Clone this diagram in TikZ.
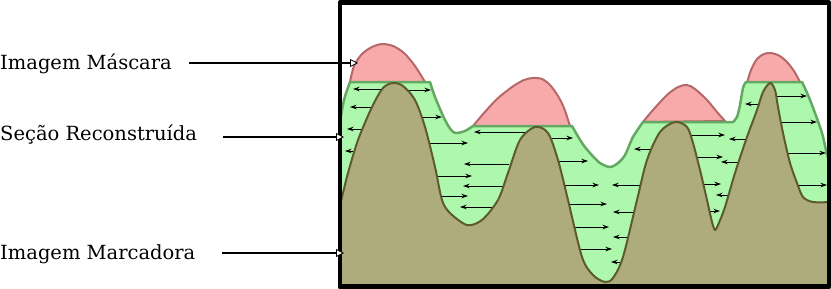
\documentclass[tikz,border=0pt]{standalone}
\usepackage{fontspec}
\setmainfont{DejaVu Serif}
\usetikzlibrary{arrows.meta}

\definecolor{maskpink}{HTML}{F8AAAA}
\definecolor{maskedge}{HTML}{B56868}
\definecolor{recgreen}{HTML}{ADF8AD}
\definecolor{recedge}{HTML}{64A864}
\definecolor{markfill}{HTML}{AEAB7C}
\definecolor{markedge}{HTML}{5E5A30}

% outline of the reconstructed section
\def\reconline{(340,122) -- plot[smooth] coordinates {(340,122) (344,100) (350,82)} -- (430,82)
  -- plot[smooth] coordinates {(430,82) (435,97) (445,120) (452,131) (457,133) (465,131) (473,126)} -- (572,126)
  -- plot[smooth] coordinates {(572,126) (582,143) (590,153) (600,163) (610,167) (618,163) (625,155) (633,137) (643,122)} -- (733,122)
  -- plot[smooth] coordinates {(733,122) (737,117) (740,105) (743,88) (746,82)} -- (802,82)
  -- plot[smooth] coordinates {(802,82) (808,95) (815,113) (822,133) (826,150) (830,165)}}
% outline of the marker image
\def\markerline{(340,205) -- plot[smooth] coordinates {(342,197) (348,173) (358,140) (372,107) (383,88) (393,83) (403,86)
  (415,100) (425,127) (435,167) (442,200) (450,213) (467,225) (482,220) (498,200) (508,173) (520,140) (535,127)
  (548,133) (558,160) (568,200) (582,257) (593,275) (605,282) (613,278) (623,257) (637,200) (647,160) (660,132)
  (675,122) (687,127) (693,143) (700,170) (707,200) (712,222) (715,230) (718,225) (725,207) (735,173) (747,137)
  (757,110) (763,92) (770,83) (775,90) (778,107) (783,133) (790,163) (797,183) (803,197) (813,202) (832,202)}}

\tikzset{
  maskpeak/.style={fill=maskpink, draw=maskedge, line width=2pt},
  flow/.style={-{Stealth[length=6.5pt,width=4.5pt]}, line width=1pt},
  pointer/.style={-{Triangle[length=8pt,width=8pt,fill=white,line width=0.8pt]}, line width=1.7pt},
  tagtext/.style={anchor=base west, inner sep=0pt, font=\fontsize{19.5}{23}\selectfont}
}

\begin{document}
\begin{tikzpicture}[x=1pt, y=-1pt, line join=round]
  \useasboundingbox (0,0) rectangle (831,289);

  % mask peaks above the reconstruction
  \filldraw[maskpeak] plot[smooth] coordinates {(350,82) (354,66) (362,54) (372,47) (382,44) (393,46) (404,53) (415,66) (425,82)} -- cycle;
  \filldraw[maskpeak] plot[smooth] coordinates {(473,126) (484,113) (497,99) (512,87) (524,80) (533,78) (542,79) (550,85) (558,96) (564,108) (570,126)} -- cycle;
  \filldraw[maskpeak] plot[smooth] coordinates {(643,122) (653,110) (667,95) (678,87) (687,85) (695,89) (707,100) (717,112) (725,121)} -- cycle;
  \filldraw[maskpeak] plot[smooth] coordinates {(747,83) (751,70) (757,59) (764,54) (770,53) (778,55) (786,61) (794,71) (800,82)} -- cycle;

  % reconstructed section
  \fill[recgreen] \reconline -- (832,289) -- (338,289) -- cycle;
  \draw[recedge, line width=2.5pt] \reconline;

  % propagation
  \foreach \a/\b/\y in {383/353/89, 407/431/90, 373/350/107, 419/442/117, 362/347/129, 356/345/151,
    528/474/132, 545/573/138, 429/468/143, 509/464/164, 557/588/161, 435/472/176, 503/463/186,
    442/468/196, 494/460/207, 561/599/185, 565/607/204, 571/609/227, 580/612/249,
    658/634/149, 645/612/185, 639/613/212, 633/613/237, 626/611/262,
    687/725/135, 751/729/139, 695/723/157, 745/721/162, 701/721/184, 736/716/195, 705/720/211,
    761/745/104, 777/807/96, 780/817/122, 785/826/153, 795/827/185}
    \draw[flow] (\a,\y) -- (\b,\y);

  % marker image
  \fill[markfill] \markerline -- (832,289) -- (338,289) -- cycle;
  \draw[markedge, line width=2pt] \markerline;

  \draw[line width=4.5pt] (340,2.3) rectangle (828.8,286.7);

  \node[tagtext] (lblmask) at (0,69) {Imagem Máscara};
  \node[tagtext] (lblsec) at (0,140) {Seção Reconstruída};
  \node[tagtext] (lblmark) at (0,259) {Imagem Marcadora};
  \coordinate (maskpt) at (358,63);
  \coordinate (secpt) at (344,137);
  \coordinate (markpt) at (344,253);
  \draw[pointer, shorten <=17pt] (lblmask.east |- maskpt) -- (maskpt);
  \draw[pointer, shorten <=26pt] (lblsec.east |- secpt) -- (secpt);
  \draw[pointer, shorten <=26pt] (lblmark.east |- markpt) -- (markpt);
\end{tikzpicture}
\end{document}
